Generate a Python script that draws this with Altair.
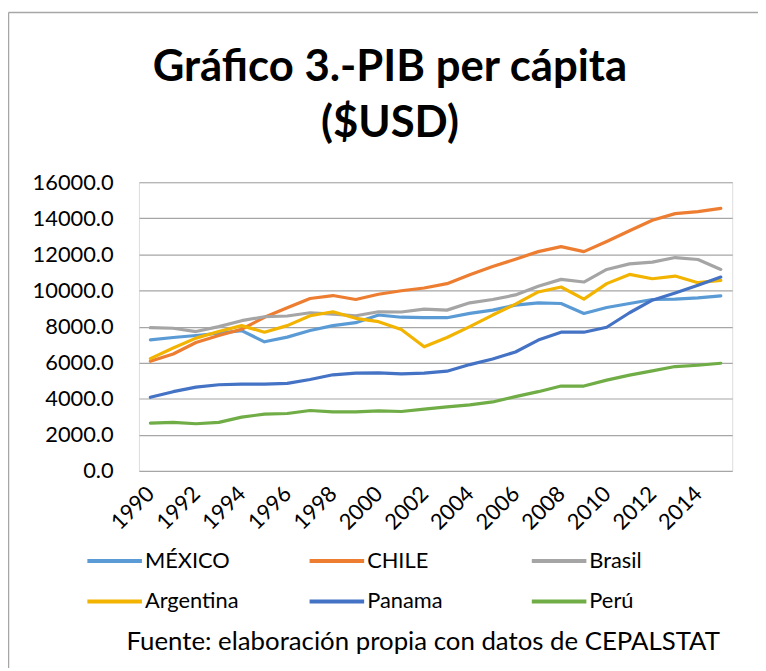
import altair as alt
import pandas as pd

years = list(range(1990, 2016))
countries = ["MÉXICO", "CHILE", "Brasil", "Argentina", "Panama", "Perú"]
colors = ["#5B9BD5", "#ED7D31", "#A5A5A5", "#F2B400", "#4472C4", "#70AD47"]

mexico = [7267, 7395, 7505, 7633, 7780, 7157, 7415, 7780, 8053, 8218, 8640, 8520, 8493,
          8493, 8730, 8913, 9190, 9316, 9280, 8730, 9060, 9280, 9500, 9520, 9590, 9700]
chile = [6077, 6480, 7120, 7505, 7853, 8513, 9040, 9555, 9720, 9500, 9793, 9985, 10140,
         10380, 10873, 11330, 11733, 12155, 12430, 12155, 12720, 13310, 13895, 14260, 14370, 14555]
brasil = [7943, 7907, 7724, 7998, 8328, 8547, 8585, 8767, 8695, 8603, 8822, 8810, 8969,
          8913, 9316, 9500, 9755, 10233, 10617, 10470, 11166, 11478, 11570, 11826, 11716, 11166]
argentina = [6223, 6810, 7360, 7724, 8053, 7690, 8053, 8603, 8822, 8459, 8273, 7835, 6880,
             7395, 7998, 8640, 9244, 9920, 10195, 9519, 10380, 10892, 10654, 10800, 10435, 10562]
panama = [4081, 4393, 4648, 4777, 4814, 4814, 4850, 5070, 5328, 5419, 5438, 5383, 5419,
          5530, 5894, 6207, 6591, 7250, 7690, 7690, 7965, 8767, 9464, 9866, 10288, 10745]
peru = [2653, 2690, 2617, 2690, 2983, 3147, 3184, 3350, 3276, 3276, 3331, 3294, 3422,
        3550, 3660, 3825, 4120, 4393, 4703, 4703, 5033, 5308, 5548, 5785, 5858, 5968]

x_tick_labels = list(range(1990, 2015, 2))
y_tick_values = list(range(0, 16001, 2000))
title_lines = ["Gráfico 3.-PIB per cápita", "($USD)"]
footer = "Fuente: elaboración propia con datos de CEPALSTAT"

series = [mexico, chile, brasil, argentina, panama, peru]
rows = []
for name, vals in zip(countries, series):
    for yr, v in zip(years, vals):
        rows.append({"year": yr, "pais": name, "pib": v})
df = pd.DataFrame(rows)

FONT = "Lato"
W, H = 598, 291

lines = alt.Chart(df).mark_line(strokeWidth=3.2, strokeJoin="round", strokeCap="round").encode(
    x=alt.X("year:Q",
            scale=alt.Scale(domain=[1989.5, 2015.5], nice=False, zero=False),
            axis=alt.Axis(values=x_tick_labels, format="d", labelAngle=-45,
                          labelAlign="right", labelBaseline="middle",
                          labelFontSize=22, labelFont=FONT, labelColor="#000000",
                          labelPadding=19, ticks=False, domain=False, grid=False,
                          labelOverlap=False,
                          title=footer,
                          titleFont=FONT, titleFontSize=26, titleFontWeight="normal",
                          titleColor="#000000", titleX=286, titleY=172,
                          titleAlign="center", titleBaseline="middle")),
    y=alt.Y("pib:Q",
            scale=alt.Scale(domain=[0, 16000], nice=False),
            axis=alt.Axis(values=y_tick_values, format=".1f", labelFontSize=22,
                          labelFont=FONT, labelColor="#000000", labelPadding=26,
                          ticks=False, domain=False, grid=True, gridColor="#A6A6A6",
                          gridWidth=1.2, title=None)),
    color=alt.Color("pais:N",
                    scale=alt.Scale(domain=countries, range=colors),
                    sort=countries,
                    legend=alt.Legend(title=None, orient="none", legendX=-54, legendY=352,
                                      columns=3, gridAlign="all", direction="horizontal",
                                      symbolType="stroke", symbolSize=3025,
                                      symbolStrokeWidth=4, labelFontSize=22,
                                      labelFont=FONT, labelColor="#000000",
                                      labelOffset=1, columnPadding=63, rowPadding=-3)),
)

one = pd.DataFrame({"k": [0]})

title1 = alt.Chart(one).mark_text(font=FONT, fontSize=44, fontWeight="bold", color="#000000",
                                  align="center", baseline="alphabetic").encode(
    x=alt.value(253), y=alt.value(-102), text=alt.value(title_lines[0])
)
title2 = alt.Chart(one).mark_text(font=FONT, fontSize=44, fontWeight="bold", color="#000000",
                                  align="center", baseline="alphabetic").encode(
    x=alt.value(253), y=alt.value(-46), text=alt.value(title_lines[1])
)

frame_top = alt.Chart(one).mark_rule(color="#A6A6A6", strokeWidth=1.5).encode(
    x=alt.value(-131.5), x2=alt.value(W + 40), y=alt.value(-171)
)
frame_left = alt.Chart(one).mark_rule(color="#A6A6A6", strokeWidth=1.5).encode(
    x=alt.value(-131.5), y=alt.value(-171), y2=alt.value(H + 220)
)

chart = alt.layer(lines, title1, title2, frame_top, frame_left).properties(
    width=W, height=H,
    padding={"left": 132, "top": 173, "right": 26, "bottom": 196},
    autosize=alt.AutoSizeParams(type="none"),
).configure_view(stroke=None).configure(background="#FFFFFF")

chart.save("out.html", embed_options={"renderer": "svg", "actions": False})
